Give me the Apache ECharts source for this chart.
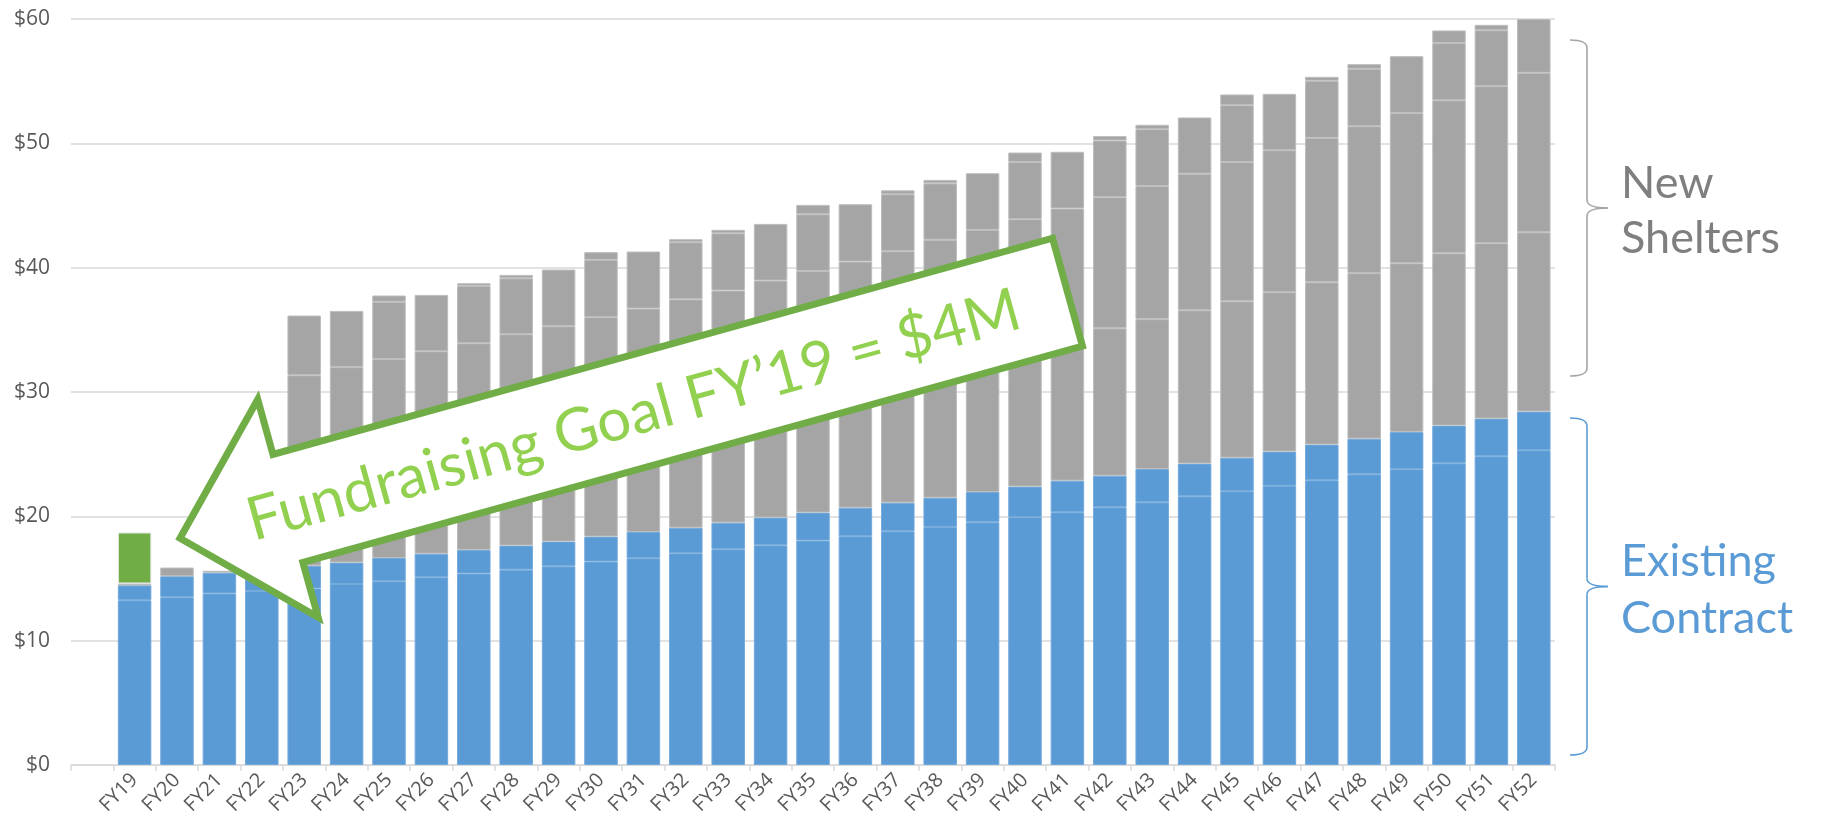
<!DOCTYPE html>
<html>
<head>
<meta charset="utf-8">
<script src="https://cdn.jsdelivr.net/npm/echarts@6/dist/echarts.min.js"></script>
<style>
html,body{margin:0;padding:0;background:#fff;}
#chart{width:1824px;height:833px;}
</style>
</head>
<body>
<div id="chart"></div>
<script>
// ---- data (values in $M) ----
const years = ['FY19','FY20','FY21','FY22','FY23','FY24','FY25','FY26','FY27','FY28','FY29','FY30','FY31','FY32','FY33','FY34','FY35','FY36','FY37','FY38','FY39','FY40','FY41','FY42','FY43','FY44','FY45','FY46','FY47','FY48','FY49','FY50','FY51','FY52'];
// existing contract, base part and escalation part
const blueBase = [13.25,13.49,13.8,14.0,14.2,14.56,14.78,15.1,15.4,15.71,15.98,16.36,16.63,17.03,17.35,17.67,18.05,18.4,18.8,19.15,19.52,19.93,20.33,20.73,21.13,21.61,22.02,22.45,22.9,23.38,23.79,24.27,24.83,25.32];
const blueTop  = [1.2,1.69,1.67,1.75,1.83,1.72,1.87,1.9,1.9,1.94,1.99,2.01,2.11,2.06,2.14,2.23,2.25,2.3,2.3,2.35,2.44,2.46,2.54,2.54,2.68,2.63,2.7,2.76,2.87,2.87,3.0,3.03,3.03,3.11];
// new shelters, stacked pieces
const gray1 = [0.15,0.7,0.15,0.2,8.5,8.7,8.85,9.0,9.2,9.35,9.5,9.7,9.85,10.0,10.2,10.35,10.5,10.7,10.85,11.0,11.2,11.4,11.6,11.86,12.05,12.34,12.58,12.82,13.06,13.31,13.57,13.86,14.11,14.42];
const gray2 = [0,0,0,0,6.82,7.02,7.15,7.28,7.42,7.65,7.82,7.95,8.12,8.36,8.47,8.71,8.94,9.09,9.37,9.74,9.88,10.11,10.29,10.54,10.7,10.97,11.19,11.42,11.61,11.82,12.07,12.31,12.63,12.82];
const gray3 = [0,0,0,0,4.8,4.52,4.6,4.53,4.62,4.5,4.56,4.61,4.59,4.6,4.61,4.56,4.56,4.61,4.59,4.54,4.56,4.59,4.56,4.56,4.58,4.53,4.58,4.53,4.59,4.61,4.58,4.59,4.5,4.33];
const gray4 = [0,0,0,0,0,0,0.51,0,0.21,0.27,0,0.62,0,0.24,0.27,0,0.75,0,0.31,0.28,0,0.77,0,0.35,0.35,0,0.86,0,0.32,0.38,0,1.02,0.43,0];
// fundraising goal
const goal = [4.1,0,0,0,0,0,0,0,0,0,0,0,0,0,0,0,0,0,0,0,0,0,0,0,0,0,0,0,0,0,0,0,0,0];
const yTicks = [0,10,20,30,40,50,60];
const annotationText = 'Fundraising Goal FY\u201919 = $4M';
const braceLabels = [['New','Shelters'],['Existing','Contract']];

// ---- build ----
const cats = [''].concat(years);   // leading empty slot as in the original
const prep = arr => ['-'].concat(arr.map(v => v === 0 ? '-' : v));

const BLUE = '#5B9BD5', GRAY = '#A5A5A5', GREEN = '#70AD47';
function stackSeries(name, arr, color, border){
  return {
    name, type:'bar', stack:'total', data: prep(arr),
    barCategoryGap:'21%',
    itemStyle:{color, borderColor:border, borderWidth:1},
    emphasis:{disabled:true},
    animation:false
  };
}

// arrow geometry (annotation, screen px)
const tip = [180, 538.3];
const ang = 15.5 * Math.PI / 180;
const ca = Math.cos(ang), sa = Math.sin(ang);
const P = (lx, ly) => [tip[0] + lx*ca + ly*sa, tip[1] - lx*sa + ly*ca];
const arrowPts = [[0,0],[112,-113],[112,-56],[921,-56],[921,56],[112,56],[112,113]].map(p => P(p[0], p[1]));
const textPos = P(470, 3);

function brace(x0, xv, xp, yTop, yBot, color){
  const yMid = (yTop + yBot) / 2;
  const r = 8;
  const st = {stroke: color, lineWidth: 1.6, fill: null};
  return [
    {type:'bezierCurve', shape:{x1:x0,y1:yTop,x2:xv,y2:yTop+r,cpx1:xv,cpy1:yTop}, style:st, z:50},
    {type:'line', shape:{x1:xv,y1:yTop+r,x2:xv,y2:yMid-r}, style:st, z:50},
    {type:'bezierCurve', shape:{x1:xv,y1:yMid-r,x2:xp,y2:yMid,cpx1:xv,cpy1:yMid}, style:st, z:50},
    {type:'bezierCurve', shape:{x1:xp,y1:yMid,x2:xv,y2:yMid+r,cpx1:xv,cpy1:yMid}, style:st, z:50},
    {type:'line', shape:{x1:xv,y1:yMid+r,x2:xv,y2:yBot-r}, style:st, z:50},
    {type:'bezierCurve', shape:{x1:xv,y1:yBot-r,x2:x0,y2:yBot,cpx1:xv,cpy1:yBot}, style:st, z:50}
  ];
}
function label(txt, x, y, color){
  return {type:'text', x, y, z:50,
    style:{text:txt, font:'45px Lato', fill:color, align:'left', textAlign:'left', verticalAlign:'middle', textVerticalAlign:'middle'}};
}

const chart = echarts.init(document.getElementById('chart'), null, {renderer:'canvas'});
chart.setOption({
  animation:false,
  backgroundColor:'#ffffff',
  grid:{left:71, right:269, top:19, bottom:68, containLabel:false},
  xAxis:{
    type:'category', data:cats, boundaryGap:true,
    axisLine:{show:true, lineStyle:{color:'#D9D9D9', width:1.5}},
    axisTick:{show:true, length:6, lineStyle:{color:'#D9D9D9', width:1.5}},
    axisLabel:{rotate:45, margin:12, color:'#595959', fontSize:20, fontFamily:'Open Sans', interval:0}
  },
  yAxis:{
    type:'value', min:yTicks[0], max:yTicks[yTicks.length-1], interval:10,
    axisLine:{show:false}, axisTick:{show:false},
    splitLine:{lineStyle:{color:'#D9D9D9', width:1.5}},
    axisLabel:{formatter: v => '$' + v, color:'#595959', fontSize:21, fontFamily:'Open Sans', margin:21}
  },
  series:[
    stackSeries('Existing base', blueBase, BLUE, '#72A9DB'),
    stackSeries('Existing escalation', blueTop, BLUE, '#72A9DB'),
    stackSeries('New 1', gray1, GRAY, '#BDBDBD'),
    stackSeries('New 2', gray2, GRAY, '#BDBDBD'),
    stackSeries('New 3', gray3, GRAY, '#BDBDBD'),
    stackSeries('New 4', gray4, GRAY, '#BDBDBD'),
    stackSeries('Goal', goal, GREEN, '#E8E8E8')
  ],
  graphic:{elements:[
    {type:'polygon', z:100, shape:{points:arrowPts},
     style:{fill:'#ffffff', stroke:GREEN, lineWidth:7, lineJoin:'miter'}},
    {type:'text', z:101, x:textPos[0], y:textPos[1], rotation:ang,
     style:{text:annotationText, font:'60px Lato', fill:'#92D050', align:'center', textAlign:'center', verticalAlign:'middle', textVerticalAlign:'middle'}}
  ].concat(
    brace(1570, 1587, 1608, 40, 376, '#A6A6A6'),
    brace(1570, 1587, 1608, 418, 755, BLUE),
    [label(braceLabels[0][0], 1621, 183, '#7F7F7F'),
     label(braceLabels[0][1], 1621, 238, '#7F7F7F'),
     label(braceLabels[1][0], 1621, 561, BLUE),
     label(braceLabels[1][1], 1621, 618, BLUE)]
  )}
});
</script>
</body>
</html>
